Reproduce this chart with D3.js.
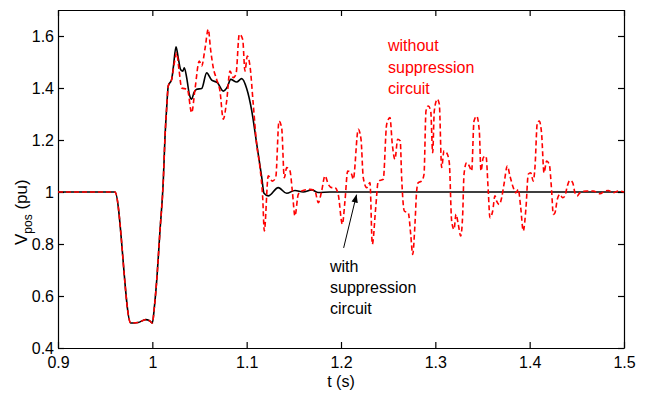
<!DOCTYPE html>
<html>
<head>
<meta charset="utf-8">
<script src="https://cdn.jsdelivr.net/npm/d3@7"></script>
<style>
  body { margin: 0; background: #fff; }
  svg { display: block; font-family: Arial, "Liberation Sans", sans-serif; }
</style>
</head>
<body>
<div id="chart"></div>
<script>
// with suppression circuit (black, solid)
const tBlack = [0.9, 0.9604, 0.9771, 0.9848, 0.993, 0.997, 1.0, 1.0021, 1.0046, 1.0081, 1.0116, 1.0134, 1.0152, 1.0169, 1.0205,
  1.0222, 1.0251, 1.0275, 1.0301, 1.0322, 1.0339, 1.0364, 1.0392, 1.0417, 1.0441, 1.047, 1.0523, 1.0576, 1.0629, 1.0689,
  1.0752, 1.0795, 1.0831, 1.0894, 1.0947, 1.1, 1.1053, 1.1106, 1.1159, 1.1184, 1.1229, 1.1335, 1.1424, 1.1512, 1.16,
  1.1689, 1.1759, 1.1883, 1.5];
const vBlack = [1.0, 1.0, 0.496, 0.498, 0.509, 0.505, 0.496, 0.555, 0.658, 0.85, 1.042, 1.209, 1.324, 1.408, 1.433,
  1.478, 1.558, 1.515, 1.47, 1.465, 1.478, 1.44, 1.376, 1.357, 1.382, 1.395, 1.398, 1.458, 1.43, 1.421,
  1.388, 1.404, 1.433, 1.423, 1.436, 1.398, 1.314, 1.186, 1.058, 0.995, 0.985, 1.017, 0.995, 1.006, 1.0,
  1.008, 0.998, 1.0, 1.0];

// without suppression circuit (red, dashed)
const tRed = [0.9, 0.9604, 0.9771, 0.9848, 0.993, 0.997, 1.0, 1.0021, 1.0046, 1.0081, 1.0116, 1.0134, 1.0152, 1.0169, 1.0205,
  1.0235, 1.0258, 1.0283, 1.0311, 1.0371, 1.0417, 1.0452, 1.0498, 1.0523, 1.0558, 1.0593, 1.0617, 1.0646, 1.0682, 1.0717,
  1.0752, 1.0788, 1.0823, 1.0858, 1.0887, 1.0922, 1.0958, 1.0982, 1.1007, 1.1035, 1.107, 1.1106, 1.1141, 1.117, 1.1187,
  1.1229, 1.1272, 1.1308, 1.1343, 1.1371, 1.1399, 1.1424, 1.1459, 1.1484, 1.1512, 1.1547, 1.1583, 1.1671, 1.1724, 1.1759,
  1.1795, 1.183, 1.1865, 1.1901, 1.1936, 1.1971, 1.2014, 1.2042, 1.2071, 1.2113, 1.213, 1.2183, 1.2212, 1.2236, 1.2272,
  1.2307, 1.2332, 1.2368, 1.2395, 1.2448, 1.2484, 1.2519, 1.2544, 1.2572, 1.2601, 1.2628, 1.2643, 1.2671, 1.2713, 1.2739,
  1.276, 1.2784, 1.2802, 1.2819, 1.2855, 1.288, 1.2901, 1.2925, 1.2951, 1.2972, 1.2989, 1.3021, 1.3042, 1.3067, 1.3092,
  1.312, 1.3148, 1.3173, 1.3198, 1.3219, 1.3243, 1.3269, 1.329, 1.3304, 1.3332, 1.336, 1.3385, 1.341, 1.3438, 1.3466,
  1.3484, 1.3508, 1.3537, 1.3561, 1.3579, 1.3608, 1.3632, 1.365, 1.3678, 1.3703, 1.3728, 1.3763, 1.3791, 1.3826, 1.3855,
  1.3879, 1.3905, 1.3932, 1.3961, 1.3985, 1.4011, 1.4038, 1.4056, 1.4081, 1.4102, 1.4127, 1.4152, 1.418, 1.4208, 1.4233,
  1.425, 1.4268, 1.4293, 1.4321, 1.435, 1.4374, 1.4399, 1.4427, 1.4456, 1.448, 1.4504, 1.4533, 1.4604, 1.4674, 1.4745,
  1.4798, 1.4833, 1.4886, 1.4939, 1.5];
const vRed = [1.0, 1.0, 0.496, 0.498, 0.509, 0.505, 0.496, 0.555, 0.658, 0.85, 1.042, 1.209, 1.324, 1.408, 1.433,
  1.5, 1.535, 1.47, 1.4, 1.395, 1.305, 1.395, 1.504, 1.485, 1.55, 1.626, 1.55, 1.478, 1.433, 1.388,
  1.28, 1.35, 1.465, 1.44, 1.453, 1.607, 1.587, 1.465, 1.523, 1.485, 1.337, 1.183, 1.094, 0.978, 0.85,
  1.062, 1.042, 1.055, 1.273, 1.247, 1.055, 1.094, 1.081, 1.004, 0.908, 0.991, 1.004, 1.01, 1.004, 0.959,
  1.004, 1.062, 1.03, 1.017, 1.017, 0.99, 0.876, 0.965, 1.081, 1.068, 1.049, 1.241, 1.203, 1.055, 1.017,
  1.036, 0.799, 0.94, 1.042, 1.049, 1.26, 1.286, 1.183, 1.126, 1.203, 1.196, 1.055, 0.927, 0.92, 0.837,
  0.76, 0.876, 1.004, 1.036, 1.042, 1.068, 1.312, 1.331, 1.312, 1.151, 1.312, 1.357, 1.338, 1.094, 1.158,
  1.151, 1.113, 0.888, 0.856, 0.914, 0.876, 0.831, 0.914, 1.068, 1.113, 1.1, 1.081, 1.273, 1.292, 1.235,
  1.081, 1.132, 1.138, 1.004, 0.901, 0.927, 0.985, 0.965, 0.952, 0.978, 1.03, 1.1, 1.062, 1.017, 0.997,
  1.01, 0.94, 0.85, 0.94, 1.068, 1.074, 1.042, 1.094, 1.266, 1.273, 1.222, 1.074, 1.119, 1.106, 1.004,
  0.914, 0.92, 0.972, 0.991, 0.978, 0.985, 1.023, 1.045, 1.036, 0.997, 0.985, 0.997, 1.004, 1.004, 0.993,
  1.004, 1.006, 0.997, 1.004, 1.0];

const xTicks = [0.9, 1.0, 1.1, 1.2, 1.3, 1.4, 1.5];
const yTicks = [0.4, 0.6, 0.8, 1.0, 1.2, 1.4, 1.6];
const redLabel = ["without", "suppression", "circuit"];
const blackLabel = ["with", "suppression", "circuit"];

const W = 647, H = 397;
const margin = {left: 58, top: 10, right: 23, bottom: 49};
const width = W - margin.left - margin.right;
const height = H - margin.top - margin.bottom;

const svg = d3.select("#chart").append("svg")
  .attr("width", W)
  .attr("height", H);

const g = svg.append("g")
  .attr("transform", "translate(" + margin.left + "," + margin.top + ")");

const x = d3.scaleLinear().domain([0.9, 1.5]).range([0, width]);
const y = d3.scaleLinear().domain([0.4, 1.7]).range([height, 0]);

const fmt = d => String(+d.toFixed(1));

// axes, MATLAB style box with inward ticks
g.append("g")
  .attr("transform", "translate(0," + height + ")")
  .call(d3.axisBottom(x).tickValues(xTicks).tickFormat(fmt).tickSizeInner(-6).tickSizeOuter(0).tickPadding(9));
g.append("g")
  .call(d3.axisTop(x).tickValues(xTicks).tickFormat("").tickSizeInner(-6).tickSizeOuter(0));
g.append("g")
  .call(d3.axisLeft(y).tickValues(yTicks).tickFormat(fmt).tickSizeInner(-6).tickSizeOuter(0).tickPadding(4));
g.append("g")
  .attr("transform", "translate(" + width + ",0)")
  .call(d3.axisRight(y).tickValues(yTicks).tickFormat("").tickSizeInner(-6).tickSizeOuter(0));

g.selectAll(".domain, .tick line").attr("stroke", "#000").attr("stroke-width", 1.2);
g.selectAll(".tick text").attr("font-size", 16).attr("font-family", "Arial, 'Liberation Sans', sans-serif").attr("fill", "#000");

// curves
const line = d3.line()
  .x(d => x(d[0]))
  .y(d => y(d[1]))
  .curve(d3.curveMonotoneX);

const black = tBlack.map((t, i) => [t, vBlack[i]]);
const red = tRed.map((t, i) => [t, vRed[i]]);

g.append("path")
  .datum(black)
  .attr("fill", "none")
  .attr("stroke", "#000")
  .attr("stroke-width", 1.6)
  .attr("d", line);

g.append("path")
  .datum(red)
  .attr("fill", "none")
  .attr("stroke", "#ff0000")
  .attr("stroke-width", 1.6)
  .attr("stroke-dasharray", "5,3")
  .attr("d", line);

// axis labels
svg.append("text")
  .attr("x", margin.left + width / 2)
  .attr("y", 387)
  .attr("text-anchor", "middle")
  .attr("font-size", 16)
  .text("t (s)");

const ylab = svg.append("text")
  .attr("transform", "translate(27,245) rotate(-90)")
  .attr("font-size", 17);
ylab.append("tspan").text("V");
ylab.append("tspan").attr("font-size", 12).attr("dy", 5).text("pos");
ylab.append("tspan").attr("dy", -5).text("\u00a0(pu)");

// annotations
svg.append("g").selectAll("text")
  .data(redLabel)
  .join("text")
  .attr("x", 388)
  .attr("y", (d, i) => 51 + i * 21.7)
  .attr("font-size", 16)
  .attr("fill", "#ff0000")
  .text(d => d);

svg.append("g").selectAll("text")
  .data(blackLabel)
  .join("text")
  .attr("x", 330)
  .attr("y", (d, i) => 272 + i * 20.8)
  .attr("font-size", 16)
  .attr("fill", "#000")
  .text(d => d);

svg.append("defs").append("marker")
  .attr("id", "arrow")
  .attr("viewBox", "0 0 10 10")
  .attr("refX", 10).attr("refY", 5)
  .attr("markerWidth", 8).attr("markerHeight", 8)
  .attr("markerUnits", "userSpaceOnUse")
  .attr("orient", "auto")
  .append("path")
  .attr("d", "M0,1 L10,5 L0,9 Z")
  .attr("fill", "#000");

// arrow from the label up to the black curve
g.append("line")
  .attr("x1", x(1.2028)).attr("y1", y(0.785))
  .attr("x2", x(1.2165)).attr("y2", y(0.99))
  .attr("stroke", "#000")
  .attr("stroke-width", 1)
  .attr("marker-end", "url(#arrow)");
</script>
</body>
</html>
